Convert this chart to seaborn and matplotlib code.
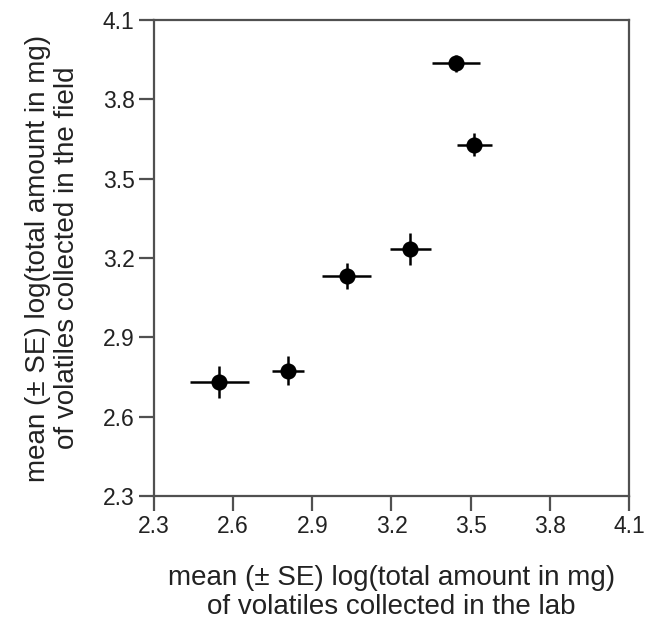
import numpy as np
import pandas as pd
import seaborn as sns
import matplotlib.pyplot as plt

# mean log(total amount) per group, lab vs field, with SE
lab_mean = [2.548, 2.808, 3.030, 3.272, 3.445, 3.514]
lab_se = [0.112, 0.062, 0.093, 0.078, 0.091, 0.067]
field_mean = [2.730, 2.774, 3.131, 3.233, 3.936, 3.628]
field_se = [0.060, 0.056, 0.049, 0.060, 0.033, 0.044]
ticks = [2.3, 2.6, 2.9, 3.2, 3.5, 3.8, 4.1]

df = pd.DataFrame({'lab': lab_mean, 'field': field_mean,
                   'lab_se': lab_se, 'field_se': field_se})

sns.set_style('ticks')
plt.rcParams['font.family'] = ['Liberation Sans', 'DejaVu Sans']

fig = plt.figure(figsize=(6.52, 6.21), dpi=100)
ax = fig.add_axes([0.2362, 0.2013, 0.7285, 0.7665])

# error bars first, then the points on top
ax.errorbar(df['lab'], df['field'], xerr=df['lab_se'], yerr=df['field_se'],
            fmt='none', ecolor='black', elinewidth=1.8, capsize=0, zorder=2)
sns.scatterplot(data=df, x='lab', y='field', ax=ax, color='black',
                s=135, edgecolor='black', linewidth=0, zorder=3)

ax.set_xlim(2.3, 4.1)
ax.set_ylim(2.3, 4.1)
ax.set_xticks(ticks)
ax.set_yticks(ticks)
ax.set_xticklabels([f'{t:.1f}' for t in ticks])
ax.set_yticklabels([f'{t:.1f}' for t in ticks])

spine_col = '#505050'
for s in ax.spines.values():
    s.set_color(spine_col)
    s.set_linewidth(1.6)
ax.tick_params(axis='both', direction='out', length=11, width=1.6,
               color=spine_col, labelsize=16.5, labelcolor='#222222', pad=3)

ax.set_xlabel('mean (\u00b1 SE) log(total amount in mg)\nof volatiles collected in the lab',
              fontsize=20, color='#222222', labelpad=19, linespacing=1.15)
ax.set_ylabel('mean (\u00b1 SE) log(total amount in mg)\nof volatiles collected in the field',
              fontsize=20, color='#222222', labelpad=16, linespacing=1.15)

fig.savefig('out.png', dpi=100)
